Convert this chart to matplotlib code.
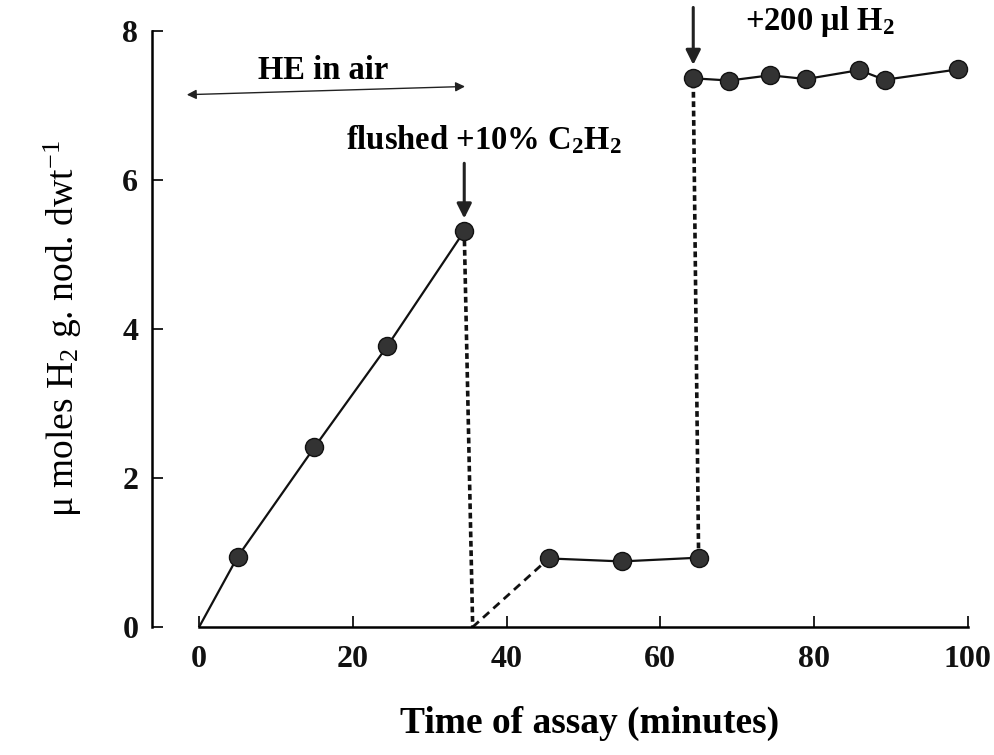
import matplotlib
matplotlib.use("Agg")
import matplotlib.pyplot as plt

# Font setup: Times-like serif, mathtext uses the same font
plt.rcParams['font.family'] = ['Liberation Serif', 'DejaVu Serif']
plt.rcParams['mathtext.fontset'] = 'custom'
plt.rcParams['mathtext.rm'] = 'Liberation Serif'
plt.rcParams['mathtext.bf'] = 'Liberation Serif:bold'
plt.rcParams['mathtext.default'] = 'regular'

# Data
time_air = [0, 5, 15, 24.5, 34.5]
h2_air = [0, 0.94, 2.41, 3.77, 5.31]

drop_time = [34.5, 35.6]
drop_h2 = [5.31, 0]

ramp_time = [35.6, 45.5]
ramp_h2 = [0, 0.92]

time_c2h2 = [45.5, 55, 65]
h2_c2h2 = [0.92, 0.88, 0.93]

jump_time = [65, 64.3]
jump_h2 = [0.93, 7.36]

time_h2 = [64.3, 69, 74.3, 79, 85.9, 89.2, 98.8]
h2_h2 = [7.36, 7.33, 7.40, 7.35, 7.47, 7.34, 7.48]

x_ticks = [0, 20, 40, 60, 80, 100]
y_ticks = [0, 2, 4, 6, 8]

fig = plt.figure(figsize=(9.95, 7.55), dpi=100)
ax = fig.add_axes([0.153, 0.1695, 0.821, 0.79])

marker_style = dict(marker='o', markersize=13, markerfacecolor='#333333',
                    markeredgecolor='#111111', markeredgewidth=1)

# solid lines with dots
ax.plot(time_air, h2_air, color='#111111', lw=1.6, zorder=2)
ax.plot(time_air[1:], h2_air[1:], linestyle='none', zorder=3, **marker_style)
ax.plot(time_c2h2, h2_c2h2, color='#111111', lw=1.6, zorder=3, **marker_style)
ax.plot(time_h2, h2_h2, color='#111111', lw=1.6, zorder=3, **marker_style)

# dashed connections
ax.plot(drop_time, drop_h2, color='#111111', lw=2.6, linestyle=(0, (1.6, 1.0)), zorder=1)
ax.plot(ramp_time, ramp_h2, color='#111111', lw=2.0, linestyle=(0, (3, 2)), zorder=1)
ax.plot(jump_time, jump_h2, color='#111111', lw=2.6, linestyle=(0, (1.6, 1.0)), zorder=1)

ax.set_xlim(-6.1, 100.2)
ax.set_ylim(0, 8)

# detached axes
ax.spines['top'].set_visible(False)
ax.spines['right'].set_visible(False)
ax.spines['bottom'].set_bounds(0, 100)
ax.spines['bottom'].set_linewidth(1.8)
ax.spines['left'].set_linewidth(1.8)

ax.set_xticks(x_ticks)
ax.set_yticks(y_ticks)
ax.tick_params(direction='in', length=8, width=1.3, colors='#111111',
               labelsize=23)
ax.tick_params(axis='x', pad=13)
ax.tick_params(axis='y', pad=10)
for lbl in ax.get_xticklabels() + ax.get_yticklabels():
    lbl.set_fontweight('bold')

ax.set_xlabel("Time of assay (minutes)", fontsize=27, fontweight='bold')
ax.xaxis.set_label_coords(0.535, -0.133)
ax.set_ylabel("μ moles H$_2$ g. nod. dwt$^{-1}$", fontsize=27)
ax.yaxis.set_label_coords(-0.083, 0.5)

# annotations
ax.annotate('', xy=(-1.6, 7.14), xytext=(34.6, 7.25),
            arrowprops=dict(arrowstyle='<|-|>', color='#222222', lw=1.0,
                            mutation_scale=14, shrinkA=0, shrinkB=0),
            annotation_clip=False)
ax.text(16.2, 7.47, "HE in air", fontsize=23.5, fontweight='bold',
        ha='center', va='center')

ax.text(37.1, 6.53, "flushed +10% C$_2$H$_2$", fontsize=23.5, fontweight='bold',
        ha='center', va='center')
ax.annotate('', xy=(34.5, 5.48), xytext=(34.5, 6.22),
            arrowprops=dict(arrowstyle='-|>', color='#222222', lw=2.2,
                            mutation_scale=22, shrinkA=0, shrinkB=0))

ax.annotate('', xy=(64.3, 7.54), xytext=(64.3, 8.31),
            arrowprops=dict(arrowstyle='-|>', color='#222222', lw=2.2,
                            mutation_scale=22, shrinkA=0, shrinkB=0),
            annotation_clip=False)
ax.text(80.8, 8.12, "+200 μl H$_2$", fontsize=23.5, fontweight='bold',
        ha='center', va='center')

fig.savefig("out.png", dpi=100)
